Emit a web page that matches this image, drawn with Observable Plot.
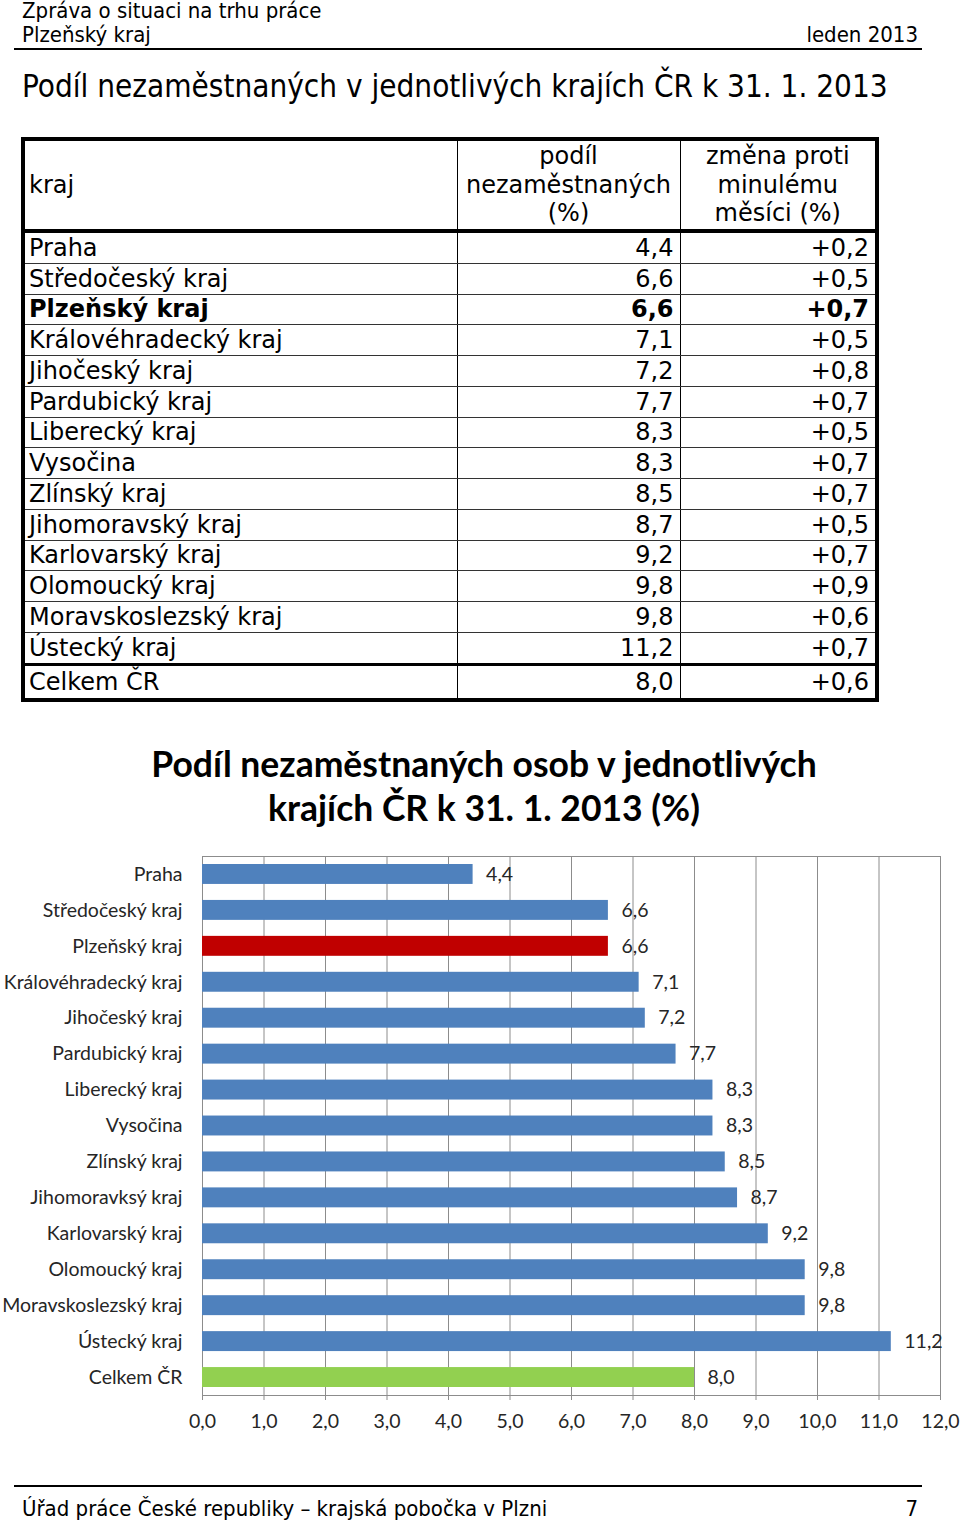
<!DOCTYPE html>
<html lang="cs">
<head>
<meta charset="utf-8">
<script src="https://cdn.jsdelivr.net/npm/d3@7"></script>
<script src="https://cdn.jsdelivr.net/npm/@observablehq/plot@0.6"></script>
<style>
  html, body { margin: 0; padding: 0; background: #fff; }
  body { width: 960px; height: 1522px; position: relative; overflow: hidden; color: #000; }
  .abs { position: absolute; white-space: nowrap; }
  .cond { font-family: "DejaVu Sans Condensed", "DejaVu Sans", sans-serif; }
  .hline { position: absolute; left: 14px; width: 908px; height: 2px; background: #000; }
  #tbl { position: absolute; left: 21px; top: 137px; border-collapse: collapse; table-layout: fixed;
         font-family: "DejaVu Sans", Verdana, sans-serif; font-size: 24px; }
  #tbl td, #tbl th { padding: 0; line-height: 28px; border: 1px solid #000; border-top: 1.5px solid #333; border-bottom: 1.5px solid #333; font-weight: normal; overflow: hidden; white-space: nowrap; }
  #tbl th { vertical-align: middle; }
  #tbl td.l, #tbl th.l { text-align: left; padding-left: 4px; }
  #tbl td.r { text-align: right; padding-right: 6px; }
  #tbl th.c { text-align: center; white-space: normal; line-height: 28.5px; }
  #tbl tr.b td { font-weight: bold; }
  #tbl { border: 4px solid #000; }
  #tbl tr.head th { border-bottom: 4px solid #000; height: 88px; }
  #tbl tr.last td { border-bottom: 3px solid #000; }
  #tbl tr.tot td { height: 32px; }
  #tbl tr.row td { height: 29.75px; }
  #ctitle { position: absolute; left: 0; width: 968px; top: 742px; text-align: center;
            font-family: Lato, "Open Sans", sans-serif; font-weight: bold; font-size: 35.5px; line-height: 44px; color: #000; }
  #chart { position: absolute; left: 0; top: 850px; }
</style>
</head>
<body>
<div class="abs cond" style="left:22px; top:-2px; font-size:22px; line-height:26px;">Zpráva o situaci na trhu práce</div>
<div class="abs cond" style="left:22px; top:22px; font-size:22px; line-height:26px;">Plzeňský kraj</div>
<div class="abs cond" style="right:42px; top:22px; font-size:22px; line-height:26px;">leden 2013</div>
<div class="hline" style="top:48px;"></div>
<div class="abs cond" style="left:22px; top:67px; font-size:31.2px; line-height:38px;">Podíl nezaměstnaných v jednotlivých krajích ČR k 31. 1. 2013</div>

<table id="tbl"></table>

<div id="ctitle">Podíl nezaměstnaných osob v jednotlivých<br>krajích ČR k 31. 1. 2013 (%)</div>
<div id="chart"></div>

<div class="hline" style="top:1485px;"></div>
<div class="abs cond" style="left:22px; top:1496px; font-size:22px; line-height:26px;">Úřad práce České republiky – krajská pobočka v Plzni</div>
<div class="abs cond" style="right:42px; top:1496px; font-size:22px; line-height:26px;">7</div>

<script>
// ---- data ----
const regions = ["Praha", "Středočeský kraj", "Plzeňský kraj", "Královéhradecký kraj", "Jihočeský kraj",
  "Pardubický kraj", "Liberecký kraj", "Vysočina", "Zlínský kraj", "Jihomoravský kraj",
  "Karlovarský kraj", "Olomoucký kraj", "Moravskoslezský kraj", "Ústecký kraj", "Celkem ČR"];
const chartLabels = ["Praha", "Středočeský kraj", "Plzeňský kraj", "Královéhradecký kraj", "Jihočeský kraj",
  "Pardubický kraj", "Liberecký kraj", "Vysočina", "Zlínský kraj", "Jihomoravksý kraj",
  "Karlovarský kraj", "Olomoucký kraj", "Moravskoslezský kraj", "Ústecký kraj", "Celkem ČR"];
const share = [4.4, 6.6, 6.6, 7.1, 7.2, 7.7, 8.3, 8.3, 8.5, 8.7, 9.2, 9.8, 9.8, 11.2, 8.0];
const change = [0.2, 0.5, 0.7, 0.5, 0.8, 0.7, 0.5, 0.7, 0.7, 0.5, 0.7, 0.9, 0.6, 0.7, 0.6];
const tableHeaders = ["kraj", "podíl nezaměstnaných (%)", "změna proti minulému měsíci (%)"];
const xTicks = [0, 1, 2, 3, 4, 5, 6, 7, 8, 9, 10, 11, 12];
const homeRegion = "Plzeňský kraj";
const totalLabel = "Celkem ČR";

const fmt = v => v.toFixed(1).replace(".", ",");
const fmtSigned = v => (v >= 0 ? "+" : "") + fmt(v);

// ---- table ----
const tbl = document.getElementById("tbl");
let html = '<colgroup><col style="width:434px"><col style="width:223px"><col style="width:197px"></colgroup>';
html += '<tr class="head"><th class="l">' + tableHeaders[0] + '</th>' +
        '<th class="c">podíl<br>nezaměstnaných<br>(%)</th>' +
        '<th class="c">změna proti<br>minulému<br>měsíci (%)</th></tr>';
regions.forEach((r, i) => {
  let cls = r === totalLabel ? "tot" : "row";
  if (i === regions.length - 2) cls += " last";
  if (r === homeRegion) cls += " b";
  html += `<tr class="${cls}"><td class="l">${r}</td><td class="r">${fmt(share[i])}</td><td class="r">${fmtSigned(change[i])}</td></tr>`;
});
tbl.innerHTML = html;

// ---- chart ----
const data = regions.map((r, i) => ({
  label: chartLabels[i],
  value: share[i],
  kind: r === homeRegion ? "home" : r === totalLabel ? "total" : "region"
}));

const chart = Plot.plot({
  width: 960,
  height: 590,
  marginLeft: 202,
  marginRight: 20,
  marginTop: 6,
  marginBottom: 45,
  style: { fontFamily: "Lato, 'Open Sans', sans-serif", fontSize: "19.5px", color: "#262626", background: "white" },
  x: { domain: [0, 12], ticks: xTicks, tickFormat: fmt, label: null, tickSize: 0, tickPadding: 19 },
  y: { domain: chartLabels, label: null, tickSize: 0, tickPadding: 20, padding: 0, round: false },
  color: { domain: ["region", "home", "total"], range: ["#4F81BD", "#C00000", "#92D050"] },
  marks: [
    Plot.ruleX(xTicks, { stroke: "#8c8c8c", strokeWidth: 1, insetBottom: -5 }),
    Plot.frame({ stroke: "#8c8c8c", strokeWidth: 1 }),
    Plot.barX(data, { x: "value", y: "label", fill: "kind", insetTop: 8, insetBottom: 8 }),
    Plot.text(data, { x: "value", y: "label", text: d => fmt(d.value), textAnchor: "start", dx: 13, fill: "#262626", fontSize: 19.5 })
  ]
});
document.getElementById("chart").appendChild(chart);
</script>
</body>
</html>
